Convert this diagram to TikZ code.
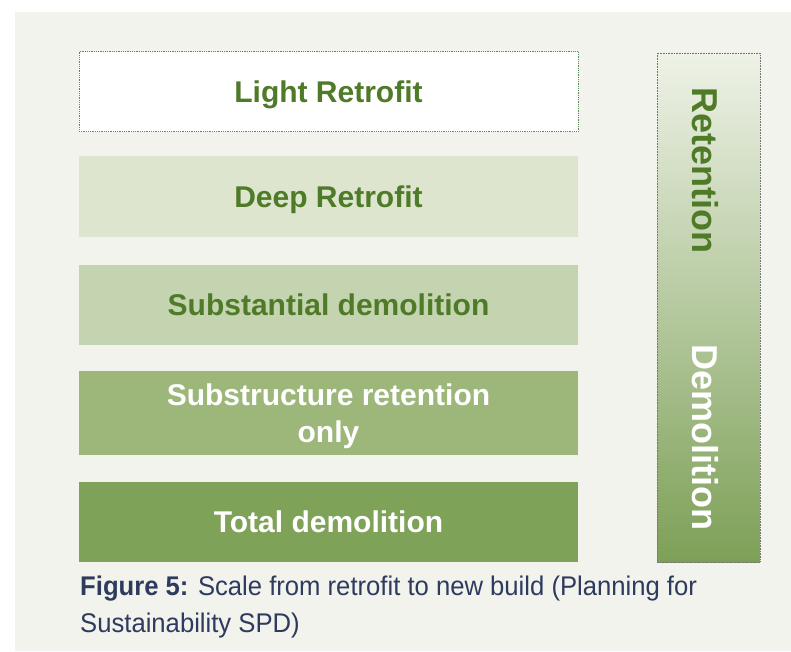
\documentclass[tikz,border=0pt]{standalone}
\usepackage{fontspec}
\setmainfont{Liberation Sans}
\newfontfamily\capfont[FakeStretch=0.95]{Liberation Sans}
\definecolor{panel}{HTML}{F2F3EC}
\definecolor{dkgreen}{HTML}{4F7A28}
\definecolor{deepfill}{HTML}{DDE5CF}
\definecolor{subfill}{HTML}{C5D4B0}
\definecolor{structfill}{HTML}{9DB77B}
\definecolor{totalfill}{HTML}{7FA259}
\definecolor{navy}{HTML}{2E3B5E}
\definecolor{bartop}{HTML}{EEF2E7}
\definecolor{barmid}{HTML}{C3D3AD}
\definecolor{barbot}{HTML}{7DA057}
\tikzset{
  level/.style={minimum width=499pt, minimum height=81pt, inner sep=0pt, align=center,
    text depth=0pt, font=\fontsize{30}{37}\selectfont\bfseries},
  bartext/.style={rotate=-90, font=\fontsize{36}{40}\selectfont\bfseries, inner sep=0pt}
}
\begin{document}
\begin{tikzpicture}[x=1pt,y=-1pt]
\useasboundingbox (0,0) rectangle (791,651);
\fill[white] (0,0) rectangle (791,651);
\fill[panel] (15,12) rectangle (791,651);
% levels
\node[level, fill=white, draw=black!35!green!30!gray, densely dotted, line width=0.8pt, text=dkgreen, minimum height=80pt] (light) at (328.5,91.5) {Light Retrofit};
\node[level, fill=deepfill, text=dkgreen] (deep) at (328.5,196.5) {Deep Retrofit};
\node[level, fill=subfill, text=dkgreen, minimum height=80pt] (subst) at (328.5,305) {Substantial demolition};
\node[level, fill=structfill, text=white, minimum height=84pt] (struct) at (328.5,413) {Substructure retention\\only};
\node[level, fill=totalfill, text=white, minimum height=80pt] (total) at (328.5,522) {Total demolition};
% right bar
\shade[top color=bartop, middle color=barmid, bottom color=barbot] (657,53) rectangle (760,562);
\draw[black!55, densely dotted, line width=0.6pt] (657,53) rectangle (760,562);
\node[bartext, text=dkgreen] (ret) at (705,170) {Retention};
\node[bartext, text=white] (dem) at (705,437) {Demolition};
% caption
\node[anchor=north west, align=left, inner sep=0pt, text=navy,
  font=\capfont\fontsize{27}{37}\selectfont] (cap) at (80,576)
  {{\bfseries Figure 5:} Scale from retrofit to new build (Planning for\\Sustainability SPD)};
\end{tikzpicture}
\end{document}
